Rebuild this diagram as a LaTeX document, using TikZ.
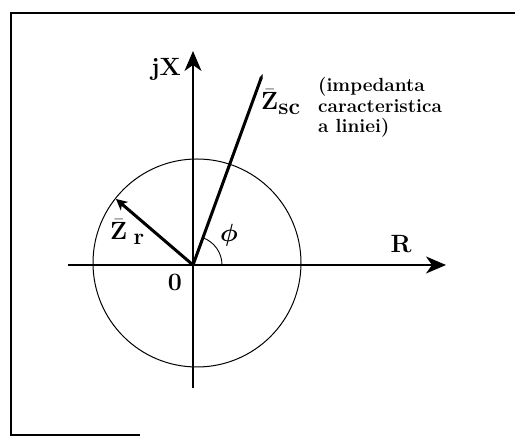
\documentclass[tikz,border=0pt]{standalone}
\usepackage{amsmath}
\usetikzlibrary{arrows.meta,positioning}
\tikzset{
axisline/.style={line width=1.2pt,-{Stealth[length=20pt,width=17pt,inset=6pt]}},
vecline/.style={line width=3pt,line cap=round},
vecarr/.style={vecline,-{Stealth[length=11pt,width=11pt,inset=3pt]}},
lbl/.style={inner sep=0pt,font=\fontsize{25}{27}\selectfont\bfseries},
zlbl/.style={inner sep=0pt,font=\fontsize{23}{25}\selectfont\bfseries},
note/.style={inner sep=0pt,align=left,font=\fontsize{19}{20.5}\selectfont\bfseries}
}

\begin{document}
\begin{tikzpicture}[x=1pt,y=1pt]
\useasboundingbox (0,0) rectangle (515,438);
% frame
\draw[line width=1.2pt] (515,425) -- (11,425) -- (11,3) -- (140,3);
% axes
\coordinate (O) at (193,173);
\coordinate (xl) at (68,173);
\coordinate (xr) at (446,173);
\coordinate (yb) at (193,50);
\coordinate (yt) at (193,387);
\draw[axisline] (xl) -- (xr);
\draw[axisline] (yb) -- (yt);
% circle of constant |Z|
\draw[line width=1pt] (197,175) circle[radius=104];
% phasors
\coordinate (zsc) at (263,365);
\coordinate (zr) at (116,239);
\draw[vecline,-{Stealth[length=6pt,width=3pt,inset=0pt]}] (O) -- (zsc);
\draw[vecarr] (O) -- (zr);
\draw[line width=0.9pt] (222,173) arc[start angle=0,end angle=70,radius=29];
% labels
\node[lbl] (jx) at (166,369) {jX};
\node[lbl] (rr) at (401,194) {R};
\node[lbl] (zero) at (175,156) {0};
\node[lbl] (phi) at (229,203) {$\boldsymbol{\phi}$};
\node[zlbl,anchor=base west] (zrl) at (110,198) {$\bar{\mathbf{Z}}$\;\raisebox{-5pt}{r}};
\node[zlbl,anchor=base west] (zscl) at (261,328) {$\bar{\mathbf{Z}}$\raisebox{-5pt}{sc}};
\node[note,anchor=base west] (txt) at (318,305) {(impedanta\\caracteristica\\a liniei)};
\end{tikzpicture}
\end{document}
